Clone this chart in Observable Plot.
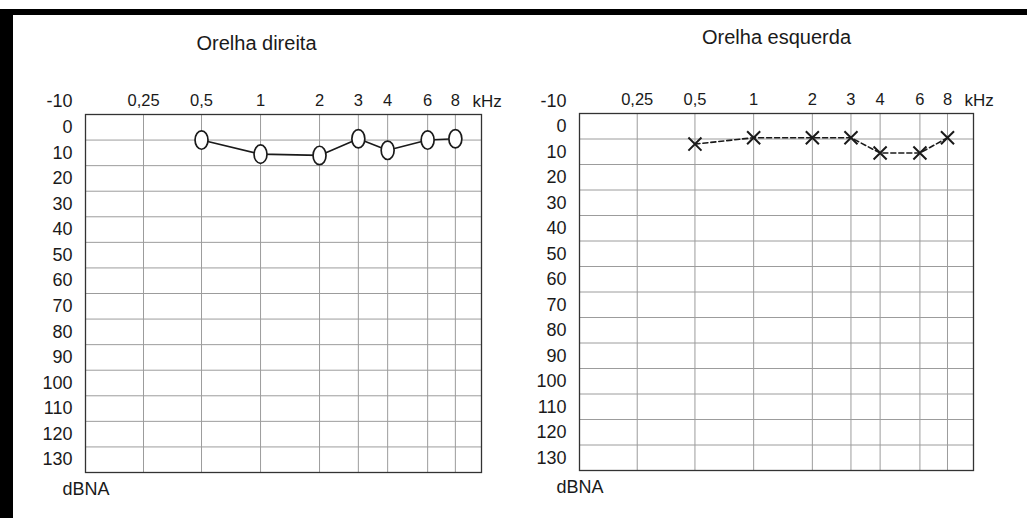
<!DOCTYPE html>
<html>
<head>
<meta charset="utf-8">
<script src="https://cdn.jsdelivr.net/npm/d3@7"></script>
<script src="https://cdn.jsdelivr.net/npm/@observablehq/plot@0.6"></script>
<style>
  html, body { margin: 0; padding: 0; background: #fff; }
  #page { position: relative; width: 1027px; height: 518px; overflow: hidden; background: #fff; }
  .bar { position: absolute; background: #000; }
  .panel { position: absolute; top: 0; }
  .panel svg { overflow: visible; }
</style>
</head>
<body>
<div id="page">
  <div class="bar" style="left:0;top:9px;width:13px;height:509px"></div>
  <div class="bar" style="left:0;top:9px;width:1027px;height:6px"></div>
  <div class="panel" id="direita" style="left:0px;top:0px"></div>
  <div class="panel" id="esquerda" style="left:495px;top:0px"></div>
</div>
<script>
// Test frequencies (kHz) and hearing thresholds (dB)
const freqs = [0.5, 1, 2, 3, 4, 6, 8];
const rightEar = [5, 10.5, 11, 4.5, 9, 5, 4.5];   // O, solid line
const leftEar = [7, 4.5, 4.5, 4.5, 10.5, 10.5, 4.5]; // X, dashed line

// Axis labels and grid
const freqTicks = [0.25, 0.5, 1, 2, 3, 4, 6, 8];
const freqLabels = ["0,25", "0,5", "1", "2", "3", "4", "6", "8"];
const levelTicks = [-10, 0, 10, 20, 30, 40, 50, 60, 70, 80, 90, 100, 110, 120, 130];
const gridLevels = [5, 15, 25, 35, 45, 55, 65, 75, 85, 95, 105, 115, 125];

// Audiogram columns: frequency break points and their relative position across the frame
const colFreqs = [0.125, 0.25, 0.5, 1, 2, 3, 4, 6, 8, 10.5];
const colStops = [0, 0.1465, 0.293, 0.442, 0.591, 0.689, 0.763, 0.864, 0.934, 1];

const font = "'Liberation Sans', Arial, sans-serif";
const ink = "#1a1a1a";

// Open ellipse used for the right-ear "O" marker
const ellipse = {
  draw(ctx, size) {
    const r = Math.sqrt(size / Math.PI);
    const rx = r * 0.72, ry = r * 1.02, k = 0.5523;
    ctx.moveTo(rx, 0);
    ctx.bezierCurveTo(rx, k * ry, k * rx, ry, 0, ry);
    ctx.bezierCurveTo(-k * rx, ry, -rx, k * ry, -rx, 0);
    ctx.bezierCurveTo(-rx, -k * ry, -k * rx, -ry, 0, -ry);
    ctx.bezierCurveTo(k * rx, -ry, rx, -k * ry, rx, 0);
    ctx.closePath();
  }
};

function audiogram({title, values, marker, dashed, m, titleDx, titleDy}) {
  const width = 500, height = 518;
  const rows = freqs.map((f, i) => ({f, db: values[i]}));
  const x0 = m.left, x1 = width - m.right;
  return Plot.plot({
    width, height,
    marginLeft: m.left, marginRight: m.right, marginTop: m.top, marginBottom: m.bottom,
    style: {fontFamily: font, background: "transparent", color: ink},
    x: {type: "linear", domain: colFreqs, range: colStops.map(s => x0 + s * (x1 - x0)), axis: null},
    y: {domain: [-5, 135], reverse: true, axis: null},
    marks: [
      Plot.ruleX(freqTicks, {stroke: "#9c9c9c", strokeWidth: 1}),
      Plot.ruleY(gridLevels, {stroke: "#9c9c9c", strokeWidth: 1}),
      Plot.frame({stroke: "#333", strokeWidth: 1.3}),
      // frequency labels above the frame
      Plot.text(freqTicks, {x: d => d, text: (d, i) => freqLabels[i], frameAnchor: "top", dy: -20, fontSize: 16.5, fill: ink}),
      Plot.text(["kHz"], {frameAnchor: "top-right", dx: -9, dy: -20, textAnchor: "start", fontSize: 17, fill: ink}),
      // hearing level labels, left of the frame
      Plot.text(levelTicks, {y: d => d, text: d => String(d), frameAnchor: "left", dx: -13, textAnchor: "end", fontSize: 18, fill: ink}),
      Plot.text(["dBNA"], {frameAnchor: "bottom-left", dx: -23, dy: 22, textAnchor: "start", fontSize: 18, fill: ink}),
      Plot.text([title], {frameAnchor: "top", dx: titleDx, dy: titleDy, fontSize: 20, fill: ink}),
      // threshold curve
      Plot.line(rows, {x: "f", y: "db", stroke: ink, strokeWidth: 1.6, strokeDasharray: dashed ? "5,3" : null}),
      marker === "O"
        ? Plot.dot(rows, {x: "f", y: "db", symbol: ellipse, r: 9, fill: "#fff", stroke: ink, strokeWidth: 1.7})
        : Plot.dot(rows, {x: "f", y: "db", symbol: "times", r: 6, stroke: ink, strokeWidth: 2})
    ]
  });
}

document.getElementById("direita").append(audiogram({
  title: "Orelha direita", values: rightEar, marker: "O", dashed: false,
  m: {left: 85, right: 19, top: 114, bottom: 46}, titleDx: -27, titleDy: -79
}));
document.getElementById("esquerda").append(audiogram({
  title: "Orelha esquerda", values: leftEar, marker: "X", dashed: true,
  m: {left: 84, right: 22, top: 113, bottom: 48}, titleDx: 0, titleDy: -84
}));
</script>
</body>
</html>
